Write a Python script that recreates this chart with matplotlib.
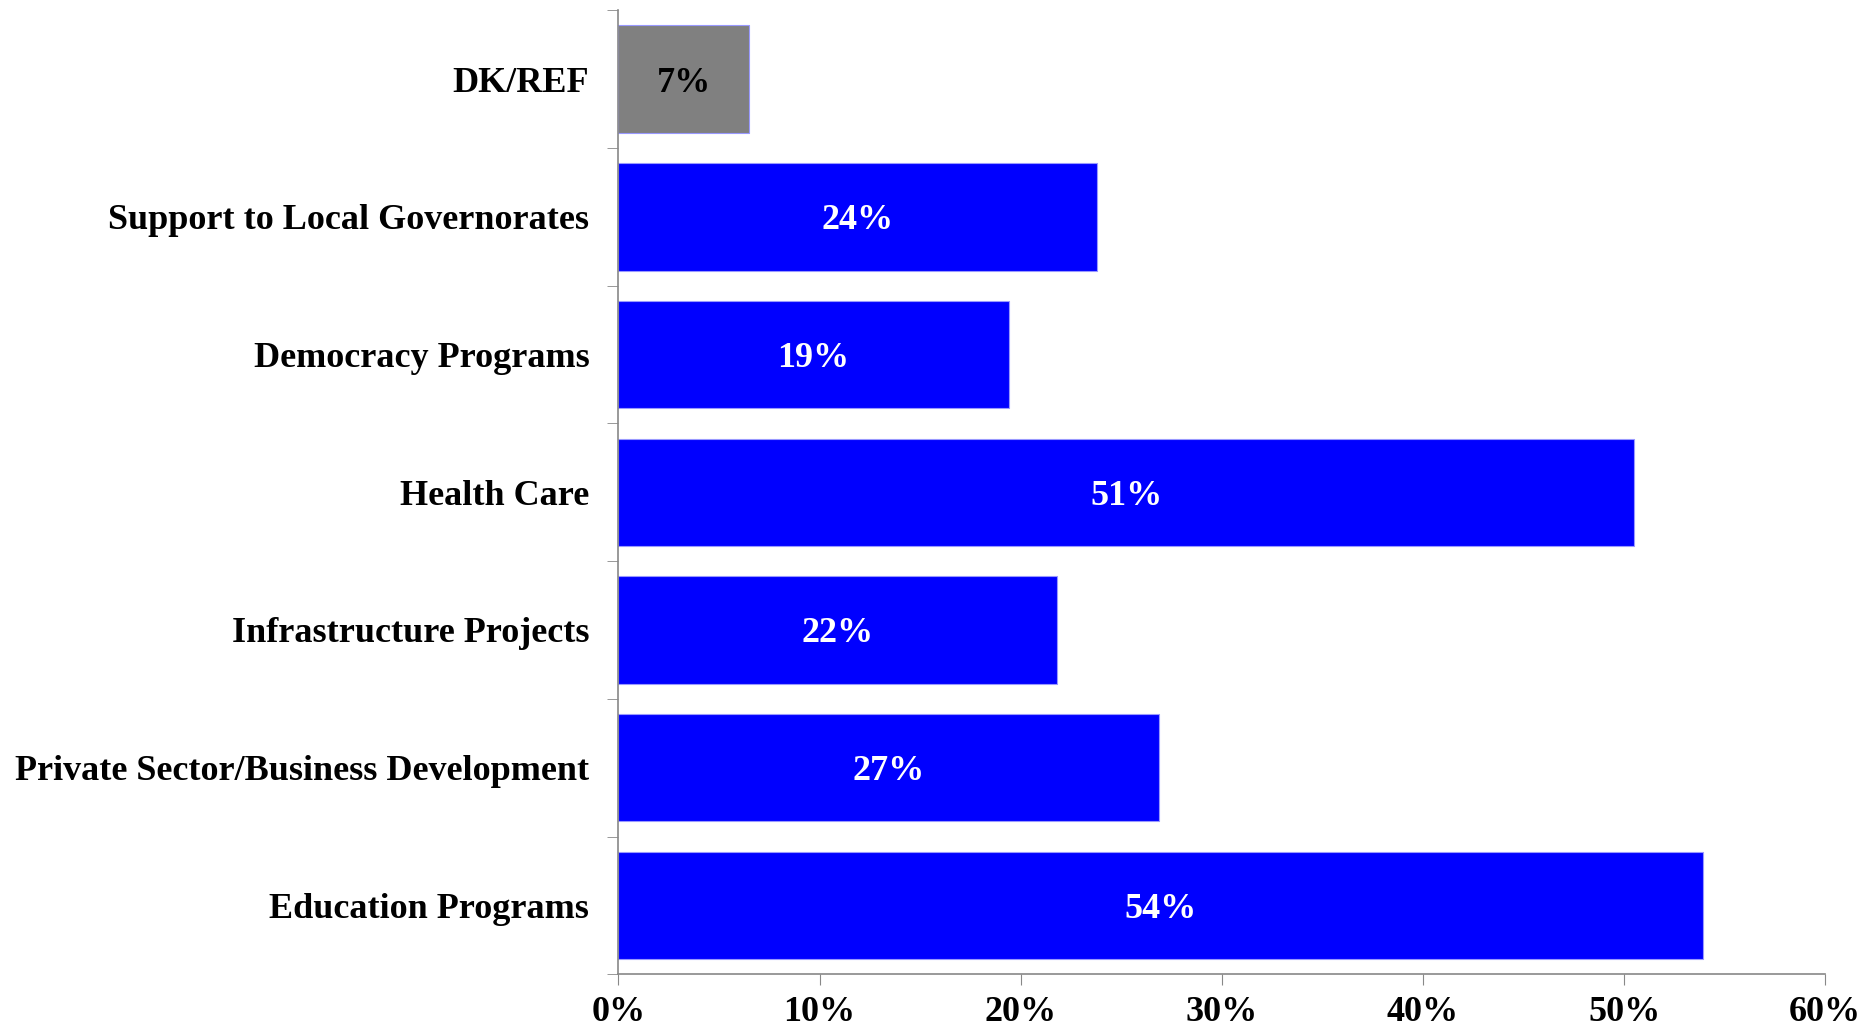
import numpy as np
import matplotlib.pyplot as plt

categories = ["Education Programs", "Private Sector/Business Development",
              "Infrastructure Projects", "Health Care", "Democracy Programs",
              "Support to Local Governorates", "DK/REF"]
values = [53.9, 26.9, 21.8, 50.5, 19.4, 23.8, 6.5]
labels = ["54%", "27%", "22%", "51%", "19%", "24%", "7%"]
colors = ["#0000ff"] * 6 + ["#808080"]
text_colors = ["white"] * 6 + ["black"]
xticks = [0, 10, 20, 30, 40, 50, 60]

plt.rcParams["font.family"] = "Liberation Serif"
plt.rcParams["font.weight"] = "bold"

fig = plt.figure(figsize=(18.74, 10.32), dpi=100)
ax = fig.add_axes([0.33, 0.056, 0.644, 0.934])

y = np.arange(len(categories))
ax.barh(y, values, height=0.78, color=colors, edgecolor="#9999ff", linewidth=0.8)
for yi, v, lab, tc in zip(y, values, labels, text_colors):
    ax.text(v / 2, yi, lab, ha="center", va="center_baseline", color=tc,
            fontsize=26, fontweight="bold")

ax.set_xlim(0, 60)
ax.set_ylim(-0.5, len(categories) - 0.5)
ax.set_xticks(xticks)
ax.set_xticklabels([f"{t}%" for t in xticks], fontsize=26, fontweight="bold")
ax.set_yticks(y)
ax.set_yticklabels(categories, fontsize=26, fontweight="bold")
ax.set_yticks(np.arange(-0.5, len(categories), 1), minor=True)
ax.tick_params(axis="y", which="major", length=0, pad=21)
ax.tick_params(axis="y", which="minor", length=8, color="#888888")
ax.tick_params(axis="x", length=8, color="#888888", pad=8)

for s in ["top", "right"]:
    ax.spines[s].set_visible(False)
for s in ["left", "bottom"]:
    ax.spines[s].set_color("#888888")
    ax.spines[s].set_linewidth(1.2)

fig.savefig("out.png", dpi=100)
